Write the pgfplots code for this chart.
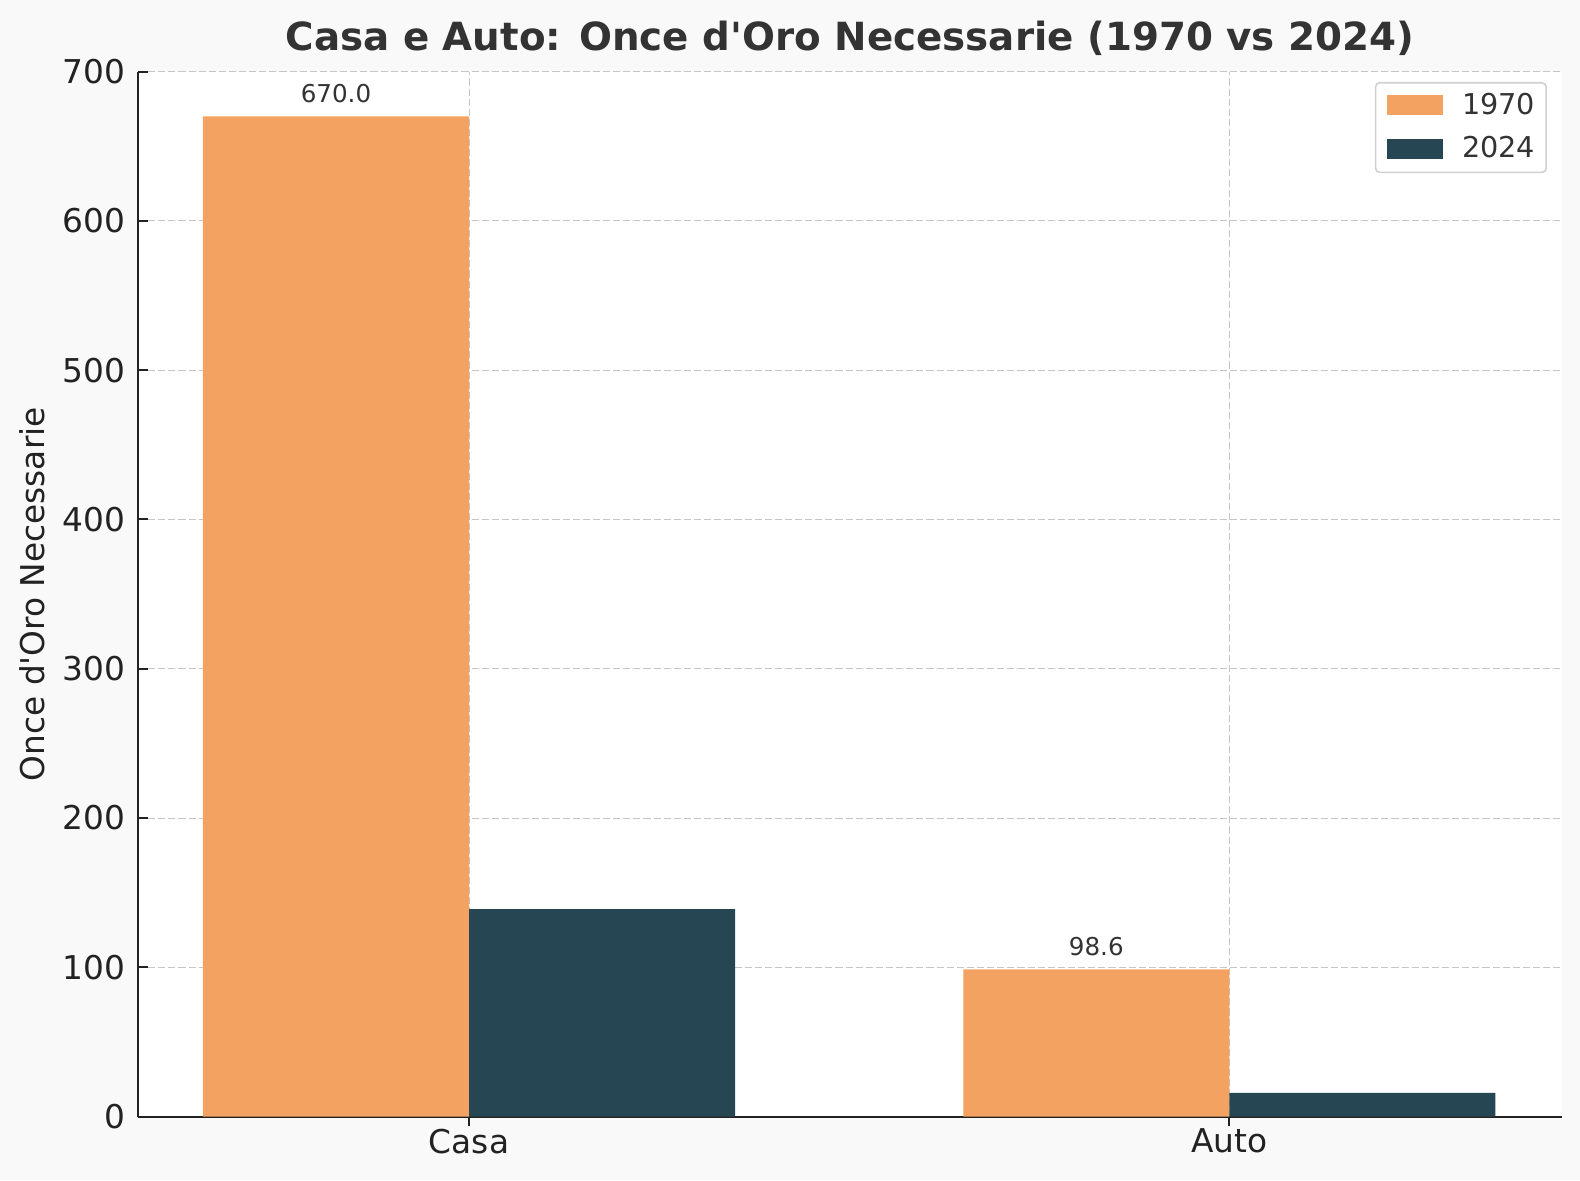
\documentclass[border=0pt]{standalone}
\usepackage{fontspec}
\setmainfont{DejaVu Sans}
\usepackage{pgfplots}
\pgfplotsset{compat=1.18}
\pgfplotsset{/pgf/number format/assume math mode=true}
\definecolor{orangebar}{HTML}{F4A261}
\definecolor{darkbar}{HTML}{264653}
\definecolor{figbg}{HTML}{F9F9F9}
\definecolor{gridc}{HTML}{C6C6C6}
\definecolor{titlec}{HTML}{333333}
\definecolor{axc}{HTML}{222222}
\definecolor{legc}{HTML}{D0D0D0}
\begin{document}
\begin{tikzpicture}
\fill[figbg] (-50.5pt,-23.2pt) rectangle (527.8pt,408.7pt);
\begin{axis}[
  at={(0pt,0pt)}, anchor=south west,
  scale only axis, width=521.2pt, height=382.5pt,
  xmin=-0.4355, xmax=1.4375, ymin=0, ymax=700,
  axis background/.style={fill=white},
  axis lines*=left,
  axis line style={draw=axc, line width=0.75pt, -},
  x axis line style={-}, y axis line style={-},
  tick align=inside,
  major tick length=3.6pt,
  tick style={draw=axc, line width=0.75pt},
  xtick={0,1}, xticklabels={Casa,Auto},
  ytick={0,100,200,300,400,500,600,700},
  grid=major,
  major grid style={draw=gridc, line width=0.4pt, dash pattern=on 2.6pt off 1.1pt},
  xticklabel style={anchor=north, inner sep=0pt, yshift=-0.7pt, font=\fontsize{12}{14}\selectfont, text=axc},
  yticklabel style={anchor=east, inner sep=0pt, xshift=-4.4pt, font=\fontsize{12}{14}\selectfont, text=axc},
  ylabel={Once d\textquotesingle Oro Necessarie},
  ylabel style={at={(axis description cs:-0.0653,0.5)}, anchor=base, font=\fontsize{12}{14}\selectfont, text=axc},
  title={Casa e Auto: Once d\textquotesingle Oro Necessarie (1970 vs 2024)},
  title style={at={(axis description cs:0.5,1)}, anchor=base, yshift=1.7pt, font=\bfseries\fontsize{14.2}{17}\selectfont, text=titlec},
  ybar=0pt, bar width=0.35,
  legend style={at={(1,1)}, anchor=north east, xshift=-5.5pt, yshift=-3.8pt,
    draw=legc, line width=0.6pt, rounded corners=1.5pt, fill=white,
    font=\fontsize{10.5}{12}\selectfont, inner xsep=4pt, inner ysep=3.8pt, row sep=6.6pt,
    nodes={inner sep=0pt, text=titlec},
    /tikz/every odd column/.append style={column sep=7.2pt}},
  legend image code/.code={\fill[#1, sharp corners] (0pt,-3.5pt) rectangle (20.5pt,3.8pt);},
]
\addplot[ybar, bar shift=-0.175, fill=orangebar, draw=none,
  nodes near coords={\pgfmathprintnumber[fixed,fixed zerofill,precision=1]{\pgfplotspointmeta}},
  every node near coord/.append style={font=\fontsize{9}{11}\selectfont, text=titlec, inner sep=0pt, anchor=south, yshift=5.0pt, text depth=0pt}]
  coordinates {(0,670) (1,98.6)};
\addlegendentry{1970}
\addplot[ybar, bar shift=0.175, fill=darkbar, draw=none]
  coordinates {(0,139) (1,16)};
\addlegendentry{2024}
\end{axis}
\pgfresetboundingbox
\path[use as bounding box] (-50.5pt,-23.2pt) rectangle (527.8pt,408.7pt);
\end{tikzpicture}
\end{document}
